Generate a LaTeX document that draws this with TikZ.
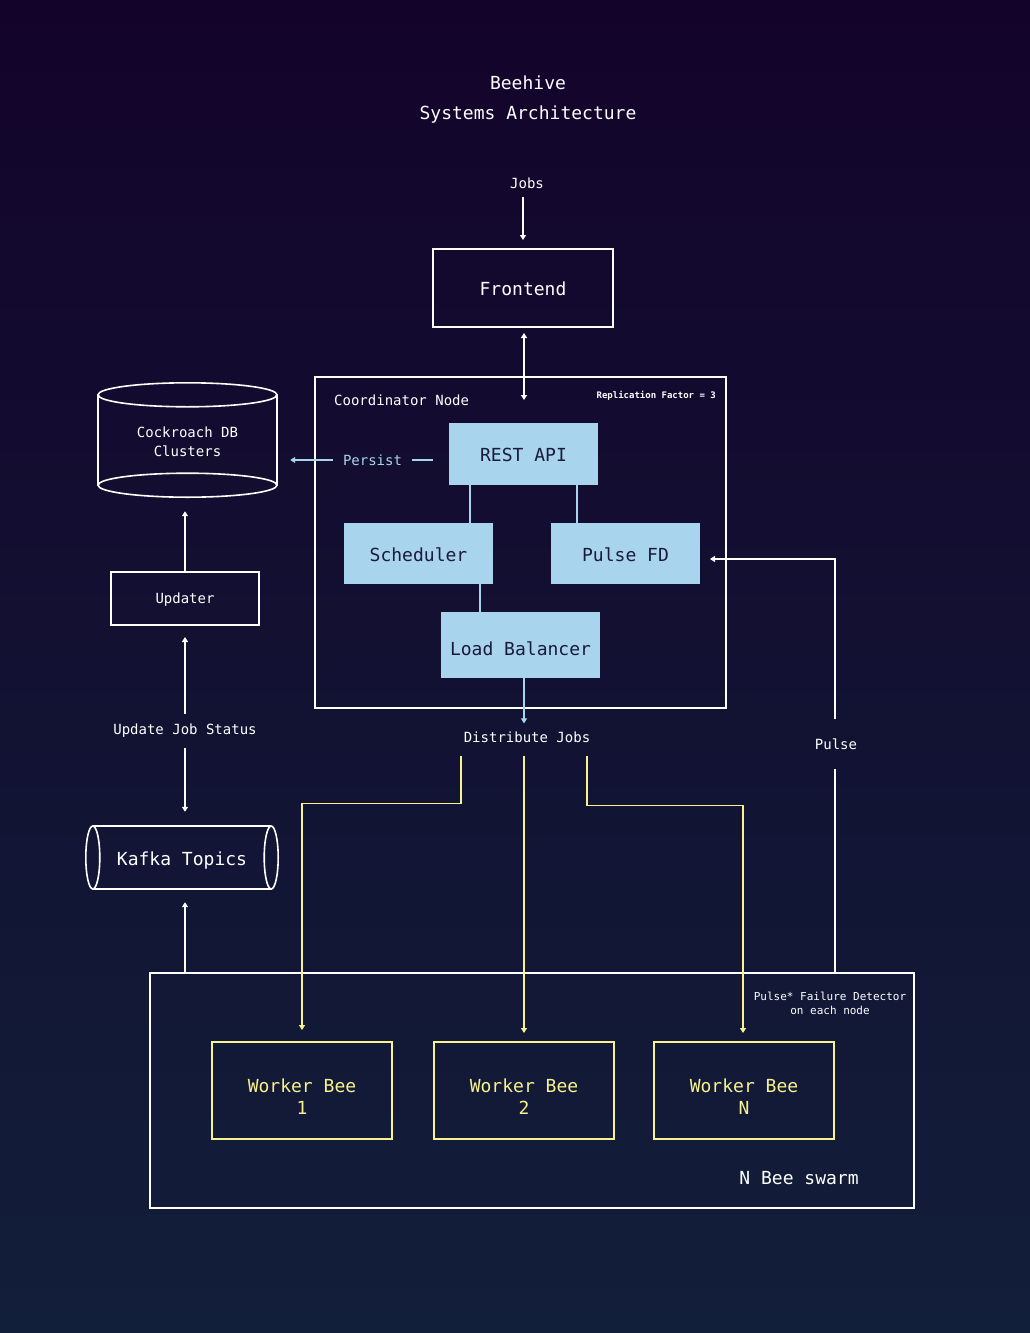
\documentclass[tikz,border=0pt]{standalone}
\usepackage{fontspec}
\setmainfont{DejaVu Sans Mono}
\usetikzlibrary{arrows.meta,calc}
\definecolor{bgtop}{HTML}{13032B}
\definecolor{bgbot}{HTML}{121F3A}
\definecolor{lblue}{HTML}{A8D4EE}
\definecolor{bee}{HTML}{F8F28C}
\definecolor{navytext}{HTML}{1A1A3A}
\begin{document}
\begin{tikzpicture}[x=1pt,y=-1pt,
  big/.style={font=\fontsize{18}{22}\selectfont},
  small/.style={font=\fontsize{14}{19}\selectfont},
  tiny/.style={font=\fontsize{11}{14}\selectfont},
  lbl/.style={small,text=white,inner sep=2pt},
  wbox/.style={draw=white,line width=1.8pt,text=white,inner sep=0pt,outer sep=0pt},
  bbox/.style={fill=lblue,draw=none,big,text=navytext,inner sep=0pt,outer sep=0pt,minimum width=149pt},
  ybox/.style={draw=bee,line width=1.8pt,big,text=bee,align=center,inner sep=0pt,outer sep=0pt,minimum width=180pt,minimum height=97pt},
  tip/.tip={Triangle[length=5pt,width=6pt]},
  wl/.style={draw=white,line width=1.4pt},
  wa/.style={wl,-tip},
  ba/.style={draw=lblue,line width=1.4pt},
  ya/.style={draw=bee,line width=1.6pt,-tip},
  cyl/.style={draw=white,line width=1.6pt}
]
% background
\shade[top color=bgtop,bottom color=bgbot] (0,0) rectangle (1030,1333);
\useasboundingbox (0,0) rectangle (1030,1333);

% title
\node[big,text=white,align=center] (title) at (528,100) {Beehive\\[8pt]Systems Architecture};

% top
\node[lbl] (jobs) at (527,183) {Jobs};
\node[wbox,big,minimum width=180pt,minimum height=78pt] (frontend) at (523,288) {\rule{0pt}{15.5pt}Frontend};

% coordinator
\node[wbox,minimum width=411pt,minimum height=331pt] (coord) at (520.5,542.5) {};
\node[small,text=white,anchor=west,inner sep=0pt] (coordlbl) at (334,400) {Coordinator Node};
\node[font=\fontsize{9}{11}\selectfont\bfseries,text=white,anchor=east,inner sep=0pt] (repl) at (716,396) {Replication Factor = 3};
\node[bbox,minimum height=62pt] (rest) at (523.5,454) {\rule{0pt}{15.5pt}REST API};
\node[bbox,minimum height=61pt] (sched) at (418.5,553.5) {\rule{0pt}{15.5pt}Scheduler};
\node[bbox,minimum height=61pt] (pfd) at (625.5,553.5) {\rule{0pt}{15.5pt}Pulse FD};
\node[bbox,minimum width=159pt,minimum height=66pt] (lb) at (520.5,645) {\rule{0pt}{21.5pt}Load Balancer};

\draw[ba] ([xshift=-53.5pt]rest.south) -- ([xshift=51.5pt]sched.north);
\draw[ba] ([xshift=53.5pt]rest.south) -- ([xshift=-48.5pt]pfd.north);
\draw[ba] ([xshift=61.5pt]sched.south) -- ([xshift=-40.5pt]lb.south |- lb.north);

% database
\node[small,text=white,align=center,minimum width=179pt,minimum height=114pt,inner sep=0pt] (db) at (187.5,440) {\rule{0pt}{14pt}Cockroach DB\\Clusters};
\draw[cyl] ($(db.north)+(0,12)$) ellipse [x radius=89.5pt, y radius=12pt];
\draw[cyl] ($(db.south)+(0,-12)$) ellipse [x radius=89.5pt, y radius=12pt];
\draw[cyl] ($(db.north west)+(0,12)$) -- ($(db.south west)+(0,-12)$);
\draw[cyl] ($(db.north east)+(0,12)$) -- ($(db.south east)+(0,-12)$);

% persist
\node[small,text=lblue,inner ysep=2pt,inner xsep=10pt] (persist) at (372.5,460) {Persist};
\draw[ba] ($(rest.west |- persist.east)+(-16,0)$) -- (persist.east);
\draw[ba,-tip,shorten >=13pt] (persist.west) -- (persist.west -| db.east);

% updater and kafka
\node[wbox,small,minimum width=148pt,minimum height=53pt] (updater) at (185,598.5) {\rule{0pt}{13pt}Updater};
\node[lbl] (ujs) at (185,731) {Update Job Status};
\node[big,text=white,minimum width=192pt,minimum height=63pt,inner sep=0pt] (kafka) at (182,857.5) {\rule{0pt}{19.5pt}Kafka Topics};
\draw[cyl] ($(kafka.west)+(7,0)$) ellipse [x radius=7pt, y radius=31.5pt];
\draw[cyl] ($(kafka.east)+(-7,0)$) ellipse [x radius=7pt, y radius=31.5pt];
\draw[cyl] ($(kafka.north west)+(7,0)$) -- ($(kafka.north east)+(-7,0)$);
\draw[cyl] ($(kafka.south west)+(7,0)$) -- ($(kafka.south east)+(-7,0)$);

% swarm
\node[wbox,minimum width=764pt,minimum height=235pt] (swarm) at (532,1090.5) {};
\node[tiny,text=white,align=center,inner sep=0pt] (pfdnote) at (830,1003) {Pulse* Failure Detector\\on each node};
\node[big,text=white,inner sep=0pt] (swarmlbl) at (799,1178) {N Bee swarm};
\node[ybox] (w1) at (302,1090.5) {\rule{0pt}{25.5pt}Worker Bee\\1};
\node[ybox] (w2) at (524,1090.5) {\rule{0pt}{25.5pt}Worker Bee\\2};
\node[ybox] (wn) at (744,1090.5) {\rule{0pt}{25.5pt}Worker Bee\\N};

% labels
\node[lbl] (dj) at (527,737) {Distribute Jobs};
\node[lbl] (pulse) at (836,744) {Pulse};

% connectors
\draw[wa,shorten <=6pt,shorten >=9pt] (jobs.south -| frontend.north) -- (frontend.north);
\draw[wl,tip-tip,shorten <=6pt,shorten >=23pt] ([xshift=1pt]frontend.south) -- ([xshift=0.5pt]rest.north);
\draw[ba,-tip,shorten >=6pt] ([xshift=3.5pt]lb.south) -- ([xshift=3.5pt]lb.south |- dj.north);

\draw[wa,shorten >=14pt] (updater.north) -- (updater.north |- db.south);
\draw[wa,shorten <=8pt,shorten >=12pt] (ujs.north) -- (updater.south);
\draw[wa,shorten <=8pt,shorten >=14pt] (ujs.south) -- (ujs.south |- kafka.north);
\draw[wa,shorten >=13pt] ([xshift=3pt]kafka.south |- swarm.north) -- ([xshift=3pt]kafka.south);

\draw[ya,shorten <=11pt,shorten >=12pt] ([xshift=-66pt]dj.south) -- ++(0,59) -| (w1.north);
\draw[ya,shorten <=11pt,shorten >=9pt] (dj.south -| w2.north) -- (w2.north);
\draw[ya,shorten <=11pt,shorten >=9pt] ([xshift=60pt]dj.south) -- ++(0,61) -| ([xshift=-1pt]wn.north);

\draw[wl,shorten >=17pt] ([xshift=-1pt]pulse.south |- swarm.north) -- ([xshift=-1pt]pulse.south);
\draw[wa,shorten <=17pt,shorten >=10pt] ([xshift=-1pt]pulse.north) |- ([yshift=-5.5pt]pfd.east);
\end{tikzpicture}
\end{document}
